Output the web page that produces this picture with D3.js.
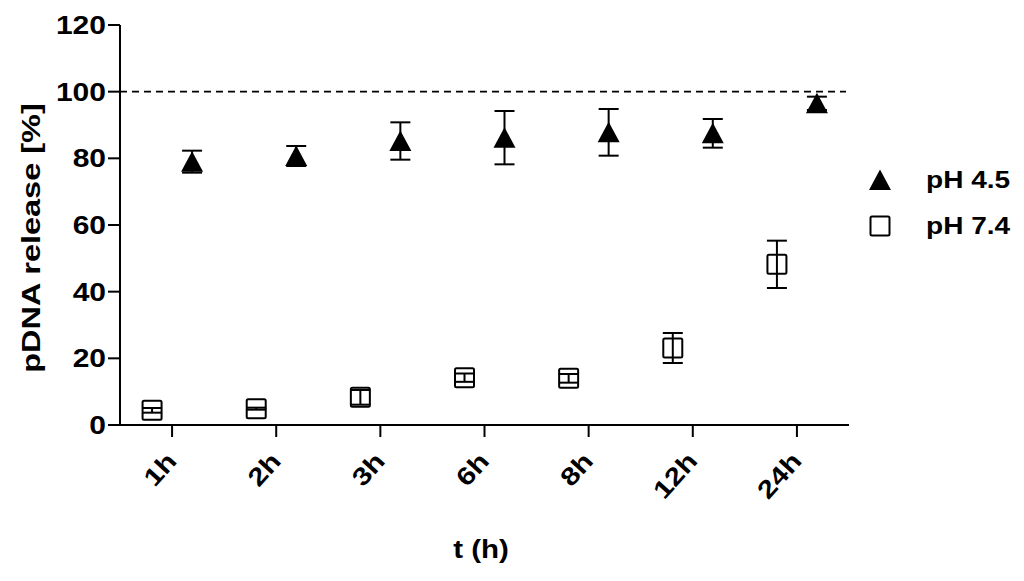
<!DOCTYPE html>
<html>
<head>
<meta charset="utf-8">
<script src="https://cdn.jsdelivr.net/npm/d3@7"></script>
<style>
  html, body { margin: 0; padding: 0; background: #fff; }
  svg { display: block; }
  text { font-family: "Liberation Sans", Arial, sans-serif; font-weight: bold; fill: #000; }
</style>
</head>
<body>
<svg id="chart" width="1024" height="581"></svg>
<script>
// ---- data ----
const categories = ["1h", "2h", "3h", "6h", "8h", "12h", "24h"];
const ph45Mean = [79.0, 80.7, 85.2, 86.2, 87.8, 87.5, 96.5];
const ph45Err  = [3.3, 3.0, 5.6, 8.0, 7.0, 4.3, 2.0];
const ph74Mean = [4.4, 4.9, 8.3, 14.2, 14.0, 23.1, 48.2];
const ph74Err  = [0.7, 0.3, 2.2, 1.25, 1.3, 4.5, 7.1];
const yTicks = [0, 20, 40, 60, 80, 100, 120];
const seriesNames = ["pH 4.5", "pH 7.4"];
const referenceLine = 100;

(function () {
// ---- layout ----
const svg = d3.select("#chart");
const plotLeft = 120, plotRight = 849, plotTop = 25, plotBottom = 425;
const x = d3.scaleBand().domain(categories).range([plotLeft, plotRight]).padding(0);
const y = d3.scaleLinear().domain([0, 120]).range([plotBottom, plotTop]);
const cx = c => x(c) + x.bandwidth() / 2;
const offset = 20;
const textScale = 1.2;
const fs = 25;

// dashed reference line
svg.append("line")
  .attr("x1", plotLeft).attr("x2", 846)
  .attr("y1", y(referenceLine)).attr("y2", y(referenceLine))
  .attr("stroke", "#000").attr("stroke-width", 1.6)
  .attr("stroke-dasharray", "7,5");

// y axis
const yAxis = svg.append("g");
yAxis.append("line").attr("x1", plotLeft).attr("x2", plotLeft)
  .attr("y1", y(0)).attr("y2", y(120))
  .attr("stroke", "#000").attr("stroke-width", 2);
yTicks.forEach(t => {
  yAxis.append("line").attr("x1", plotLeft - 12).attr("x2", plotLeft)
    .attr("y1", y(t)).attr("y2", y(t))
    .attr("stroke", "#000").attr("stroke-width", 2);
  yAxis.append("text")
    .attr("transform", `translate(106,${y(t) + 9}) scale(${textScale},1)`)
    .attr("text-anchor", "end")
    .attr("font-size", fs)
    .text(t);
});

// x axis
const xAxis = svg.append("g");
xAxis.append("line").attr("x1", plotLeft - 1).attr("x2", plotRight)
  .attr("y1", y(0)).attr("y2", y(0))
  .attr("stroke", "#000").attr("stroke-width", 2);
categories.forEach(c => {
  xAxis.append("line").attr("x1", cx(c)).attr("x2", cx(c))
    .attr("y1", y(0)).attr("y2", y(0) + 12)
    .attr("stroke", "#000").attr("stroke-width", 2);
  xAxis.append("text")
    .attr("transform", `translate(${cx(c) + 6},462) rotate(-48) scale(${textScale},1)`)
    .attr("text-anchor", "end")
    .attr("font-size", fs)
    .text(c);
});

// axis titles
svg.append("text")
  .attr("transform", `translate(40,238) rotate(-90) scale(1.3,1)`)
  .attr("text-anchor", "middle")
  .attr("font-size", fs)
  .text("pDNA release [%]");
svg.append("text")
  .attr("transform", `translate(481,558) scale(1.18,1)`)
  .attr("text-anchor", "middle")
  .attr("font-size", fs)
  .text("t (h)");

// error bars helper
function errorBars(means, errs, dx, capW) {
  const g = svg.append("g").attr("stroke", "#000").attr("stroke-width", 2);
  categories.forEach((c, i) => {
    const xc = cx(c) + dx;
    const hi = y(means[i] + errs[i]), lo = y(means[i] - errs[i]);
    g.append("line").attr("x1", xc).attr("x2", xc).attr("y1", hi).attr("y2", lo);
    g.append("line").attr("x1", xc - capW / 2).attr("x2", xc + capW / 2).attr("y1", hi).attr("y2", hi);
    g.append("line").attr("x1", xc - capW / 2).attr("x2", xc + capW / 2).attr("y1", lo).attr("y2", lo);
  });
}

const triPath = (xc, yc) => `M${xc},${yc - 10.5}L${xc + 11},${yc + 10}L${xc - 11},${yc + 10}Z`;

// pH 7.4 (open squares, offset left)
errorBars(ph74Mean, ph74Err, -offset, 20);
svg.append("g").selectAll("rect").data(ph74Mean).join("rect")
  .attr("x", (d, i) => cx(categories[i]) - offset - 9.5)
  .attr("y", d => y(d) - 9.5)
  .attr("width", 19).attr("height", 19).attr("rx", 1.5)
  .attr("fill", "none").attr("stroke", "#000").attr("stroke-width", 2);

// pH 4.5 (filled triangles, offset right)
errorBars(ph45Mean, ph45Err, offset, 20);
svg.append("g").selectAll("path").data(ph45Mean).join("path")
  .attr("d", (d, i) => triPath(cx(categories[i]) + offset, y(d)))
  .attr("fill", "#000");

// legend
const lg = svg.append("g");
lg.append("path").attr("d", triPath(880, 180)).attr("fill", "#000");
lg.append("rect").attr("x", 870.5).attr("y", 216.5).attr("width", 19).attr("height", 19)
  .attr("rx", 1.5).attr("fill", "none").attr("stroke", "#000").attr("stroke-width", 2);
lg.append("text").attr("transform", `translate(926,188) scale(1.22,1)`)
  .attr("font-size", 23).text(seriesNames[0]);
lg.append("text").attr("transform", `translate(926,234) scale(1.22,1)`)
  .attr("font-size", 23).text(seriesNames[1]);
})();
</script>
</body>
</html>
